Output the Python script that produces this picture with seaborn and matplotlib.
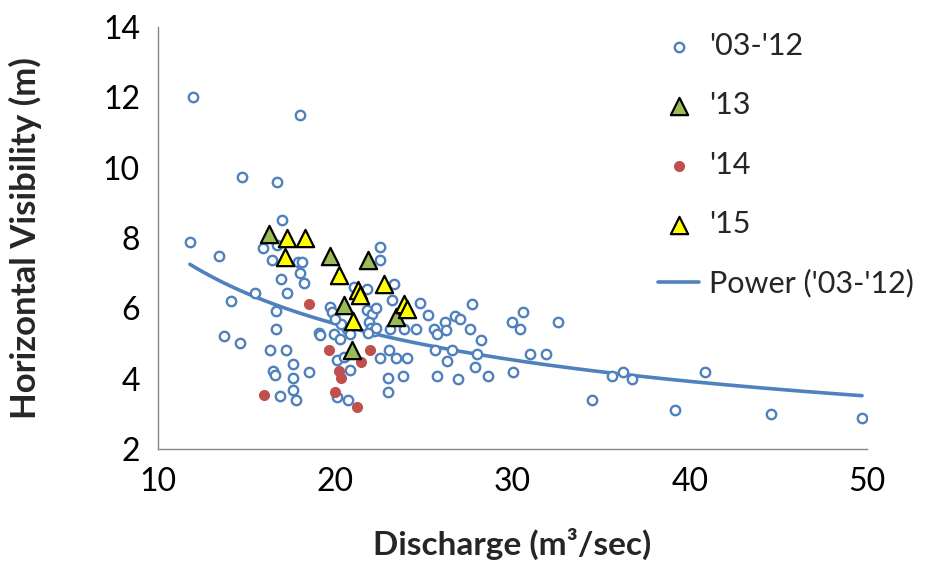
import numpy as np
import pandas as pd
import matplotlib
matplotlib.use("Agg")
import matplotlib.pyplot as plt
import seaborn as sns

# '03-'12 (discharge, visibility)
q_0312 = [12.0, 18.0, 11.8, 14.75, 16.7, 13.45, 14.1, 13.7, 14.6, 17.0, 15.95, 16.7, 16.42,
          17.9, 18.15, 18.0, 16.93, 18.25, 15.5, 17.3, 16.63, 19.72, 19.82, 16.66, 19.06,
          19.15, 19.95, 20.27, 20.65, 20.85, 16.3, 17.24, 20.1, 20.47, 17.64, 18.53, 16.47,
          16.6, 17.64, 20.85, 17.64, 16.87, 17.8, 20.1, 20.7, 22.54, 22.54, 21.05, 21.8,
          23.32, 23.2, 24.76, 27.7, 21.8, 22.06, 22.3, 21.9, 22.0, 22.2, 22.3, 21.85, 23.1,
          23.86, 24.55, 25.25, 26.2, 26.78, 27.06, 25.55, 25.75, 26.25, 27.6, 28.2, 29.97,
          30.6, 30.4, 32.56, 31.0, 31.9, 28.0, 27.9, 25.6, 26.58, 26.3, 23.05, 22.5, 23.45,
          24.02, 23.0, 23.8, 25.76, 26.9, 28.6, 30.03, 23.0, 34.46, 35.63, 36.23, 36.72,
          39.18, 40.85, 44.58, 49.72, 20.3, 20.0]
v_0312 = [12.0, 11.5, 7.9, 9.73, 9.6, 7.5, 6.2, 5.2, 5.0, 8.5, 7.72, 7.79, 7.38,
          7.33, 7.33, 7.0, 6.82, 6.72, 6.43, 6.43, 5.91, 6.03, 5.9, 5.4, 5.3,
          5.23, 5.27, 5.14, 5.42, 5.28, 4.82, 4.82, 4.52, 4.62, 4.42, 4.19, 4.23,
          4.1, 4.01, 4.24, 3.69, 3.5, 3.4, 3.48, 3.4, 7.74, 7.38, 6.6, 6.55,
          6.7, 6.24, 6.16, 6.12, 5.94, 5.85, 6.0, 5.6, 5.45, 5.35, 5.45, 5.3, 5.42,
          5.4, 5.4, 5.8, 5.61, 5.79, 5.7, 5.4, 5.28, 5.38, 5.4, 5.1, 5.61,
          5.9, 5.4, 5.61, 4.71, 4.71, 4.71, 4.33, 4.81, 4.82, 4.5, 4.81, 4.6, 4.6,
          4.6, 4.02, 4.08, 4.08, 4.0, 4.08, 4.19, 3.61, 3.39, 4.07, 4.19, 4.0,
          3.11, 4.19, 2.99, 2.89, 5.55, 5.7]

# '13
q_13 = [16.27, 19.7, 21.82, 20.47, 23.4, 20.95]
v_13 = [8.12, 7.5, 7.37, 6.1, 5.75, 4.81]

# '14
q_14 = [18.53, 19.67, 21.98, 21.45, 20.2, 20.34, 16.0, 20.0, 21.22]
v_14 = [6.13, 4.82, 4.81, 4.48, 4.22, 4.02, 3.54, 3.62, 3.2]

# '15
q_15 = [17.27, 18.27, 17.17, 20.2, 22.73, 21.3, 21.4, 23.9, 24.04, 21.0]
v_15 = [8.0, 8.0, 7.46, 6.96, 6.68, 6.51, 6.37, 6.13, 5.99, 5.63]

x_ticks = [10, 20, 30, 40, 50]
y_ticks = [2, 4, 6, 8, 10, 12, 14]

BLUE = "#4F81BD"
GREEN = "#9BBB59"
RED = "#C0504D"
YELLOW = "#FFFF00"
GREY = "#868686"

sns.set_theme(style="white")
plt.rcParams["font.family"] = ["Lato", "DejaVu Sans"]

fig = plt.figure(figsize=(9.29, 5.71), dpi=100)
ax = fig.add_axes([158 / 929, 1 - 449 / 571, (867 - 158) / 929, (449 - 27) / 571])

df0 = pd.DataFrame({"q": q_0312, "v": v_0312})
df13 = pd.DataFrame({"q": q_13, "v": v_13})
df14 = pd.DataFrame({"q": q_14, "v": v_14})
df15 = pd.DataFrame({"q": q_15, "v": v_15})

# power trendline fitted on '03-'12
b, loga = np.polyfit(np.log(df0["q"]), np.log(df0["v"]), 1)
qq = np.linspace(df0["q"].min(), df0["q"].max(), 200)
trend = pd.DataFrame({"q": qq, "v": np.exp(loga) * qq ** b})

sns.scatterplot(data=df0, x="q", y="v", ax=ax, marker="o", s=46, facecolor="white",
                edgecolor=BLUE, linewidth=1.7, label="'03-'12", zorder=3)
sns.scatterplot(data=df13, x="q", y="v", ax=ax, marker="^", s=155, color=GREEN,
                edgecolor="black", linewidth=1.6, label="'13", zorder=5)
sns.scatterplot(data=df14, x="q", y="v", ax=ax, marker="o", s=64, color=RED,
                edgecolor=RED, linewidth=0, label="'14", zorder=4)
sns.scatterplot(data=df15, x="q", y="v", ax=ax, marker="^", s=155, color=YELLOW,
                edgecolor="black", linewidth=1.6, label="'15", zorder=6)
sns.lineplot(data=trend, x="q", y="v", ax=ax, color=BLUE, linewidth=2.6,
             label="Power ('03-'12)", zorder=2)

ax.set_xlim(10, 50)
ax.set_ylim(2, 14)
ax.set_xticks(x_ticks)
ax.set_yticks(y_ticks)
ax.tick_params(axis="both", labelsize=23, colors=GREY, labelcolor="black",
               direction="out", length=6, width=1, pad=7)
for side in ["top", "right"]:
    ax.spines[side].set_visible(False)
for side in ["left", "bottom"]:
    ax.spines[side].set_color(GREY)
    ax.spines[side].set_linewidth(1)

ax.set_xlabel("Discharge (m\u00b3/sec)", fontsize=24, fontweight="bold", labelpad=22)
ax.set_ylabel("Horizontal Visibility (m)", fontsize=25, fontweight="bold", labelpad=44)

handles, labels = ax.get_legend_handles_labels()
leg = ax.legend(handles, labels, loc="upper left", bbox_to_anchor=(646 / 929, 1 - 20 / 571),
                bbox_transform=fig.transFigure, frameon=False, fontsize=22,
                labelspacing=1.02, handlelength=1.35, handletextpad=0.3, borderaxespad=0)
leg.set_zorder(10)

fig.savefig("out.png", dpi=100)
